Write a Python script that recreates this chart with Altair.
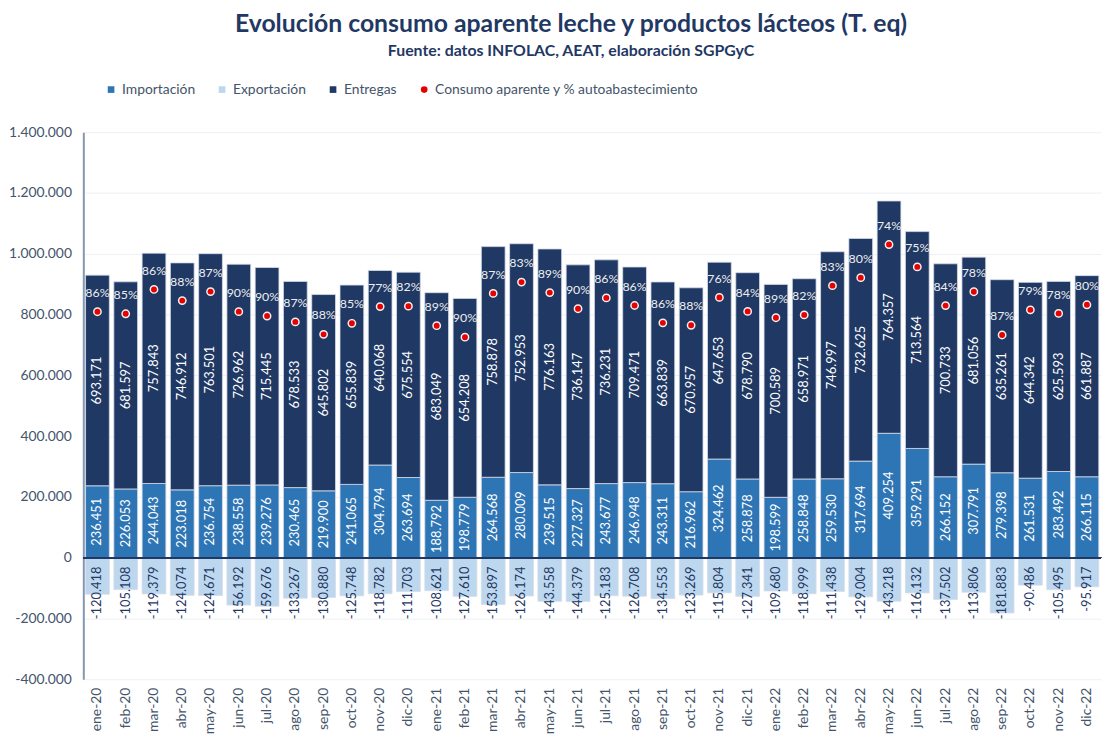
import altair as alt
import pandas as pd

meses = ["ene-20", "feb-20", "mar-20", "abr-20", "may-20", "jun-20", "jul-20", "ago-20", "sep-20", "oct-20", "nov-20", "dic-20",
         "ene-21", "feb-21", "mar-21", "abr-21", "may-21", "jun-21", "jul-21", "ago-21", "sep-21", "oct-21", "nov-21", "dic-21",
         "ene-22", "feb-22", "mar-22", "abr-22", "may-22", "jun-22", "jul-22", "ago-22", "sep-22", "oct-22", "nov-22", "dic-22"]

importacion = [236451, 226053, 244043, 223018, 236754, 238558, 239276, 230465, 219900, 241065, 304794, 263694,
               188792, 198779, 264568, 280009, 239515, 227327, 243677, 246948, 243311, 216962, 324462, 258878,
               198599, 258848, 259530, 317694, 409254, 359291, 266152, 307791, 279398, 261531, 283492, 266115]

exportacion = [-120418, -105108, -119379, -124074, -124671, -156192, -159676, -133267, -130880, -125748, -118782, -111703,
               -108621, -127610, -153897, -126174, -143558, -144379, -125183, -126708, -134553, -123269, -115804, -127341,
               -109680, -118999, -111438, -129004, -143218, -116132, -137502, -113806, -181883, -90486, -105495, -95917]

entregas = [693171, 681597, 757843, 746912, 763501, 726962, 715445, 678533, 645802, 655839, 640068, 675554,
            683049, 654208, 758878, 752953, 776163, 736147, 736231, 709471, 663839, 670957, 647653, 678790,
            700589, 658971, 746997, 732625, 764357, 713564, 700733, 681056, 635261, 644342, 625593, 661887]

autoabastecimiento = [86, 85, 86, 88, 87, 90, 90, 87, 88, 85, 77, 82,
                      89, 90, 87, 83, 89, 90, 86, 86, 86, 88, 76, 84,
                      89, 82, 83, 80, 74, 75, 84, 78, 87, 79, 78, 80]

series = ["Importación", "Exportación", "Entregas", "Consumo aparente y % autoabastecimiento"]
colores = ["#2e75b6", "#bdd7ee", "#1f3864", "#e60000"]
formas = ["square", "square", "square", "circle"]
y_ticks = [-400000, -200000, 0, 200000, 400000, 600000, 800000, 1000000, 1200000, 1400000]

df = pd.DataFrame({
    "mes": meses,
    "imp": importacion,
    "exp": exportacion,
    "ent": entregas,
    "pct": autoabastecimiento,
})

NAVY = "#1f3864"
GREY = "#44546a"
FONT = "Lato"

x_enc = alt.X(
    "mes:N", sort=meses,
    scale=alt.Scale(paddingInner=0.16, paddingOuter=0.08),
    axis=alt.Axis(title=None, labelAngle=270, labelFontSize=14, labelColor=GREY, ticks=False,
                  domain=False, labelPadding=8, labelFont=FONT),
)
y_scale = alt.Scale(domain=[-400000, 1400000], nice=False, zero=False)
y_axis = alt.Axis(title=None, values=y_ticks, format=",d", labelFontSize=14, labelColor=GREY,
                  ticks=False, domain=True, domainColor="#8497b0", domainWidth=2,
                  grid=True, gridColor="#eef0f4", labelPadding=12, labelFont=FONT)

leg = dict(title=None, orient="none", direction="horizontal", legendX=21, legendY=-50,
           labelFontSize=14, labelColor=GREY, symbolSize=45, columnPadding=20, labelFont=FONT,
           symbolStrokeWidth=0, labelLimit=500)

color_enc = alt.Color("serie:N", scale=alt.Scale(domain=series, range=colores), legend=alt.Legend(**leg))
shape_enc = alt.Shape("serie:N", scale=alt.Scale(domain=series, range=formas), legend=alt.Legend(**leg))

base = alt.Chart(df)

bars = base.transform_fold(
    ["imp", "exp", "ent"], as_=["clave", "valor"]
).transform_calculate(
    serie="datum.clave === 'imp' ? 'Importación' : (datum.clave === 'exp' ? 'Exportación' : 'Entregas')",
    orden="datum.clave === 'imp' ? 0 : (datum.clave === 'ent' ? 1 : 2)",
).mark_bar(stroke="#d6dce8", strokeWidth=0.8).encode(
    x=x_enc,
    y=alt.Y("valor:Q", scale=y_scale, axis=y_axis, stack="zero"),
    color=color_enc,
    order=alt.Order("orden:Q"),
)

zero_rule = base.mark_rule(color=NAVY, strokeWidth=1.5).encode(y=alt.datum(0))

ent_lbl = base.transform_calculate(ymid="datum.imp + datum.ent / 2").mark_text(
    angle=270, color="white", fontSize=13, font=FONT, baseline="middle", align="center"
).encode(x=x_enc, y=alt.Y("ymid:Q"), text=alt.Text("ent:Q", format=",d"))

imp_lbl = base.transform_calculate(ymid="datum.imp / 2").mark_text(
    angle=270, color="white", fontSize=13, font=FONT, baseline="middle", align="center"
).encode(x=x_enc, y=alt.Y("ymid:Q"), text=alt.Text("imp:Q", format=",d"))

exp_lbl = base.transform_calculate(cero="0").mark_text(
    angle=270, color=NAVY, fontSize=13, font=FONT, baseline="middle", align="right", dx=-9
).encode(x=x_enc, y=alt.Y("cero:Q"), text=alt.Text("exp:Q", format=",d"))

consumo = base.transform_calculate(
    consumo="datum.imp + datum.ent + datum.exp",
    serie="'Consumo aparente y % autoabastecimiento'",
)

dots = consumo.mark_point(filled=True, size=55, stroke="#f0f0f0", strokeWidth=1.5, opacity=1).encode(
    x=x_enc, y=alt.Y("consumo:Q"), color=color_enc, shape=shape_enc,
)

pct_lbl = consumo.transform_calculate(lbl="datum.pct + '%'").mark_text(
    color="#eeeeee", fontSize=12.5, font=FONT, dy=-19, baseline="middle"
).encode(x=x_enc, y=alt.Y("consumo:Q"), text="lbl:N")

chart = alt.layer(bars, zero_rule, ent_lbl, imp_lbl, exp_lbl, dots, pct_lbl).properties(
    width=1027,
    height=552,
    padding={"left": 0, "top": 1, "right": 4, "bottom": 0},
    title=alt.TitleParams(
        text="Evolución consumo aparente leche y productos lácteos (T. eq)",
        subtitle="Fuente: datos INFOLAC, AEAT, elaboración SGPGyC",
        fontSize=25, subtitleFontSize=16, subtitleFontWeight="bold",
        color=NAVY, subtitleColor=NAVY, font=FONT, subtitleFont=FONT,
        anchor="middle", frame="bounds", offset=24, subtitlePadding=6, dx=16,
    ),
).configure(
    locale={"number": {"decimal": ",", "thousands": ".", "grouping": [3], "currency": ["", " €"], "minus": "-"}},
).configure_view(stroke=None).configure_axis(labelFont=FONT)

chart.save("out.html", embed_options={"renderer": "svg", "actions": False})
